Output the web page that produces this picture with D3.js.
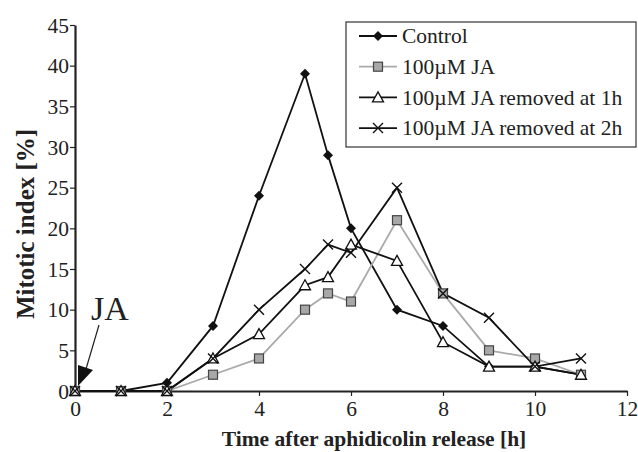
<!DOCTYPE html>
<html>
<head>
<meta charset="utf-8">
<script src="https://cdn.jsdelivr.net/npm/d3@7"></script>
<style>
body { margin: 0; background: #fff; }
text { font-family: "Liberation Serif", "Times New Roman", serif; fill: #222; }
</style>
</head>
<body>
<div id="graphic"></div>
<script>
// data
var times = [0, 1, 2, 3, 4, 5, 5.5, 6, 7, 8, 9, 10, 11];
var control = [0, 0, 1, 8, 24, 39, 29, 20, 10, 8, 3, 3, 2];
var ja100 = [0, 0, 0, 2, 4, 10, 12, 11, 21, 12, 5, 4, 2];
var removed1h = [0, 0, 0, 4, 7, 13, 14, 18, 16, 6, 3, 3, 2];
var removed2h = [0, 0, 0, 4, 10, 15, 18, 17, 25, 12, 9, 3, 4];
var seriesNames = ["Control", "100\u00b5M JA", "100\u00b5M JA removed at 1h", "100\u00b5M JA removed at 2h"];
var xTicks = [0, 2, 4, 6, 8, 10, 12];
var yTicks = [0, 5, 10, 15, 20, 25, 30, 35, 40, 45];

var W = 638, H = 452;
var margin = { top: 25, right: 11, bottom: 61, left: 75 },
    width = W - margin.left - margin.right,
    height = H - margin.top - margin.bottom;

var svg = d3.select("#graphic").append("svg")
    .attr("width", W)
    .attr("height", H)
    .append("g")
    .attr("transform", "translate(" + margin.left + "," + margin.top + ")");

var x = d3.scaleLinear().domain([0, 12]).range([0, width]);
var y = d3.scaleLinear().domain([0, 45]).range([height, 0]);

// axes
var xAxis = svg.append("g")
    .attr("transform", "translate(0," + height + ")")
    .call(d3.axisBottom(x).tickValues(xTicks).tickSize(5).tickSizeOuter(0));
var yAxis = svg.append("g")
    .call(d3.axisLeft(y).tickValues(yTicks).tickSize(5).tickSizeOuter(0));
[xAxis, yAxis].forEach(function(a) {
    a.select(".domain").attr("stroke", "#222").attr("stroke-width", 2.2);
    a.selectAll(".tick line").attr("stroke", "#222").attr("stroke-width", 1.2);
    a.selectAll(".tick text").attr("font-size", 21.5).attr("font-family", "Liberation Serif").attr("fill", "#333");
});
xAxis.selectAll(".tick text").attr("y", 7).attr("dy", "0.85em");
yAxis.selectAll(".tick text").attr("x", -6).attr("dy", "0.33em");

// axis titles
svg.append("text")
    .attr("x", 299)
    .attr("y", height + 55)
    .attr("text-anchor", "middle")
    .attr("font-size", 21.5)
    .attr("font-weight", "bold")
    .text("Time after aphidicolin release [h]");
svg.append("text")
    .attr("transform", "translate(-41," + 199 + ") rotate(-90)")
    .attr("text-anchor", "middle")
    .attr("font-size", 25)
    .attr("font-weight", "bold")
    .text("Mitotic index [%]");

var series = [
    { name: seriesNames[0], values: control, line: "#111", marker: "diamond" },
    { name: seriesNames[1], values: ja100, line: "#aaa", marker: "square" },
    { name: seriesNames[2], values: removed1h, line: "#111", marker: "triangle" },
    { name: seriesNames[3], values: removed2h, line: "#111", marker: "cross" }
];

var line = d3.line()
    .x(function(d) { return x(d[0]); })
    .y(function(d) { return y(d[1]); });

function drawMarker(g, type) {
    if (type === "diamond") {
        g.append("path").attr("d", "M0,-5L5,0L0,5L-5,0Z").attr("fill", "#111");
    } else if (type === "square") {
        g.append("rect").attr("x", -4.5).attr("y", -4.5).attr("width", 9).attr("height", 9)
            .attr("fill", "#a8a8a8").attr("stroke", "#444").attr("stroke-width", 1.2);
    } else if (type === "triangle") {
        g.append("path").attr("d", "M0,-5.5L5.5,4.5L-5.5,4.5Z")
            .attr("fill", "#fff").attr("stroke", "#111").attr("stroke-width", 1.3);
    } else {
        g.append("path").attr("d", "M-5,-5L5,5M-5,5L5,-5")
            .attr("stroke", "#111").attr("stroke-width", 1.4);
    }
}

// lines first, then markers
series.forEach(function(s) {
    var pts = times.map(function(t, i) { return [t, s.values[i]]; });
    svg.append("path")
        .datum(pts)
        .attr("fill", "none")
        .attr("stroke", s.line)
        .attr("stroke-width", 1.8)
        .attr("d", line);
});
series.forEach(function(s) {
    times.forEach(function(t, i) {
        var g = svg.append("g").attr("transform", "translate(" + x(t) + "," + y(s.values[i]) + ")");
        drawMarker(g, s.marker);
    });
});

// legend
var leg = svg.append("g").attr("transform", "translate(" + (346 - margin.left) + "," + (22 - margin.top) + ")");
leg.append("rect").attr("width", 290).attr("height", 125)
    .attr("fill", "#fff").attr("stroke", "#333").attr("stroke-width", 1.2);
series.forEach(function(s, i) {
    var ly = 14 + i * 30.7;
    leg.append("line").attr("x1", 13).attr("x2", 51).attr("y1", ly).attr("y2", ly)
        .attr("stroke", s.line).attr("stroke-width", 1.8);
    drawMarker(leg.append("g").attr("transform", "translate(32," + ly + ")"), s.marker);
    leg.append("text").attr("x", 56).attr("y", ly).attr("dy", "0.34em")
        .attr("font-size", 21.5).text(s.name);
});

// JA annotation with arrow
svg.append("text").attr("x", x(0) + 16).attr("y", y(0) - 71)
    .attr("font-size", 34).text("JA");
svg.append("line")
    .attr("x1", x(0) + 24).attr("y1", y(0) - 66)
    .attr("x2", x(0) + 11).attr("y2", y(0) - 22)
    .attr("stroke", "#222").attr("stroke-width", 1.2);
svg.append("path")
    .attr("d", "M" + (x(0) + 3) + "," + (y(0) - 5) + "L" + (x(0) + 3) + "," + (y(0) - 26) + "L" + (x(0) + 18) + "," + (y(0) - 21) + "Z")
    .attr("fill", "#111");
</script>
</body>
</html>
